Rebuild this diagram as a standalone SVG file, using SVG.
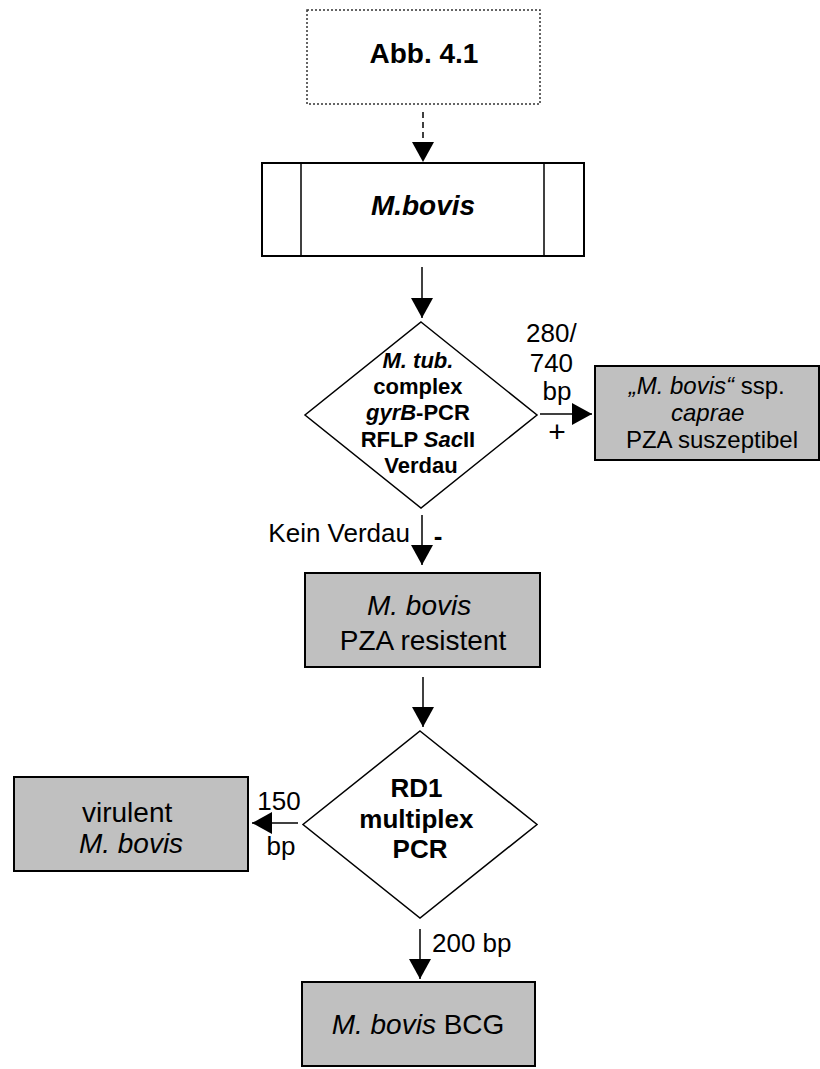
<svg xmlns="http://www.w3.org/2000/svg" width="820" height="1069" viewBox="0 0 820 1069">
<defs>
<style>
text{font-family:"Liberation Sans",Arial,sans-serif;fill:#000}
.b{font-weight:bold}
.i{font-style:italic}
.box{fill:#c0c0c0;stroke:#000;stroke-width:2}
.wbox{fill:#fff;stroke:#000;stroke-width:2}
.dia{fill:#fff;stroke:#000;stroke-width:1.5}
.ln{stroke:#000;stroke-width:1.5;fill:none}
</style>
<marker id="ah" markerUnits="userSpaceOnUse" markerWidth="20" markerHeight="22" refX="20" refY="11" orient="auto" viewBox="0 0 20 22">
<path d="M0,0 L20,11 L0,22 z" fill="#000"/>
</marker>
</defs>
<rect width="820" height="1069" fill="#fff"/>

<g id="abb">
<rect x="307" y="10" width="233" height="94" fill="#fff" stroke="#333" stroke-width="1.5" stroke-dasharray="2,2"/>
<text x="424" y="63" font-size="28" class="b" text-anchor="middle">Abb. 4.1</text>
</g>

<g id="mbovis">
<rect x="262" y="163" width="322" height="93" class="wbox"/>
<line x1="301" y1="163" x2="301" y2="256" class="ln" stroke-width="2"/>
<line x1="544" y1="163" x2="544" y2="256" class="ln" stroke-width="2"/>
<text x="423" y="215" font-size="28" class="b i" text-anchor="middle">M.bovis</text>
</g>

<g id="gyrb">
<polygon points="421,322 537,415 421,508 305,415" class="dia"/>
<text font-size="22" class="b" text-anchor="middle">
<tspan x="421" y="368" class="i">M. tub.</tspan>
<tspan x="421" y="394">complex</tspan>
<tspan x="421" y="420"><tspan class="i">gyrB</tspan>-PCR</tspan>
<tspan x="421" y="447">RFLP <tspan class="i">Sac</tspan>II</tspan>
<tspan x="421" y="473">Verdau</tspan>
</text>
</g>

<g id="caprae">
<rect x="595" y="366" width="224" height="94" class="box"/>
<text font-size="24" text-anchor="middle">
<tspan x="710" y="394"><tspan class="i">„M. bovis“</tspan> ssp.</tspan>
<tspan x="711" y="421" class="i">caprae</tspan>
<tspan x="712" y="448">PZA suszeptibel</tspan>
</text>
</g>

<g id="resistent">
<rect x="305" y="573" width="235" height="94" class="box"/>
<text font-size="28" text-anchor="middle">
<tspan x="423" y="615" class="i">M. bovis</tspan>
<tspan x="423" y="650">PZA resistent</tspan>
</text>
</g>

<g id="rd1">
<polygon points="420,731 537,824.5 420,918 303,824.5" class="dia"/>
<text font-size="26" class="b" text-anchor="middle">
<tspan x="420" y="797">RD1</tspan>
<tspan x="420" y="828">multiplex</tspan>
<tspan x="420" y="858">PCR</tspan>
</text>
</g>

<g id="virulent">
<rect x="14" y="777" width="234" height="94" class="box"/>
<text font-size="28" text-anchor="middle">
<tspan x="131" y="822">virulent</tspan>
<tspan x="131" y="853" class="i">M. bovis</tspan>
</text>
</g>

<g id="bcg">
<rect x="302" y="982" width="233" height="84" class="box"/>
<text x="418" y="1034" font-size="28" text-anchor="middle"><tspan class="i">M. bovis</tspan> BCG</text>
</g>

<g id="connectors">
<line x1="423" y1="112" x2="423" y2="162" class="ln" stroke-dasharray="6,4" marker-end="url(#ah)"/>
<line x1="422" y1="267" x2="422" y2="318" class="ln" marker-end="url(#ah)"/>
<line x1="540" y1="414" x2="592" y2="414" class="ln" marker-end="url(#ah)"/>
<line x1="422" y1="515" x2="422" y2="565" class="ln" marker-end="url(#ah)"/>
<line x1="423" y1="677" x2="423" y2="727" class="ln" marker-end="url(#ah)"/>
<line x1="298" y1="823" x2="252" y2="823" class="ln" marker-end="url(#ah)"/>
<line x1="420" y1="929" x2="420" y2="979" class="ln" marker-end="url(#ah)"/>
<text font-size="26" text-anchor="middle">
<tspan x="555" y="342">280/</tspan>
<tspan x="555" y="372">740</tspan>
<tspan x="557" y="400">bp</tspan>
</text>
<text x="557" y="442" font-size="30" text-anchor="middle">+</text>
<text x="410" y="542" font-size="26" text-anchor="end">Kein Verdau</text>
<text x="438" y="545" font-size="26" class="b" text-anchor="middle">-</text>
<text x="279" y="810" font-size="26" text-anchor="middle">150</text>
<text x="281" y="855" font-size="26" text-anchor="middle">bp</text>
<text x="432" y="952" font-size="26">200 bp</text>
</g>
</svg>
